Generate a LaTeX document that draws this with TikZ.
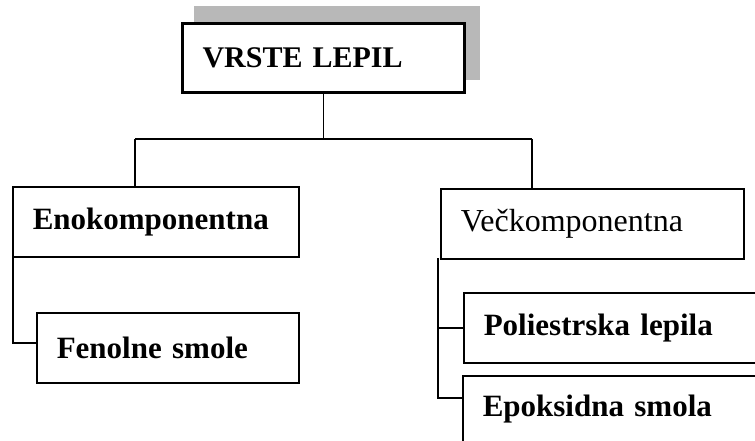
\documentclass[tikz,border=0pt]{standalone}
\usepackage{fontspec}
\setmainfont{Liberation Serif}
\usetikzlibrary{calc}
\begin{document}
\begin{tikzpicture}[x=1pt,y=-1pt,
  box/.style={draw=black,line width=1.5pt,rectangle,anchor=north west,
    inner xsep=20pt,inner ysep=0pt,align=left,font=\fontsize{31}{36}\selectfont\bfseries},
  conn/.style={draw=black,line width=1.5pt}]
\useasboundingbox (0,0) rectangle (755,441);
\clip (0,0) rectangle (755,441);
% shadow behind the title box
\fill[black!28] (194,6) rectangle (480,80);
% title
\node[box,line width=3pt,font=\fontsize{30}{36}\selectfont\bfseries,
  fill=white,text width=242pt,minimum height=69pt] (top) at (181,22) {VRSTE LEPIL};
% first level
\node[box,text width=246pt,minimum height=70pt] (eno) at (12,186) {Enokomponentna};
\node[box,font=\fontsize{32}{36}\selectfont,text width=263pt,minimum height=70pt] (vec) at (440,188) {Večkomponentna};
% second level
\node[box,text width=222pt,minimum height=70pt] (fen) at (36,312) {Fenolne smole};
\node[box,text width=300pt,minimum height=70pt] (pol) at (463,292) {Poliestrska lepila};
\node[box,text width=300pt,minimum height=66pt] (epo) at (462,375) {Epoksidna smola};
% junction points
\coordinate (jl) at (135,139);
\coordinate (jr) at (532,139);
\coordinate (rl) at (438,258);
\coordinate (ll) at (13,256);
\coordinate (fy) at ($(fen.west)+(0,-5)$);
\coordinate (ey) at ($(epo.north west)+(0,23)$);
% connectors
\draw[conn] (top.south) -- (top.south |- jl);
\draw[conn] (jl) -- (jr);
\draw[conn] (jl) -- (jl |- eno.north);
\draw[conn] (jr) -- (jr |- vec.north);
\draw[conn] (ll) |- (fy);
\draw[conn] (rl) |- (pol.west);
\draw[conn] (rl) |- (ey);
\end{tikzpicture}
\end{document}
